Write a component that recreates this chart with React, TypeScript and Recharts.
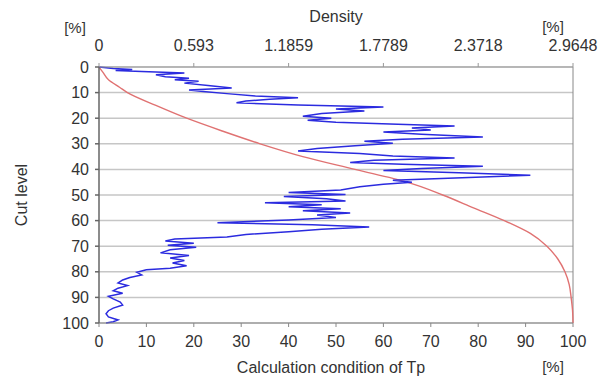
import React from 'react'
import { LineChart, Line, XAxis, YAxis, CartesianGrid, ReferenceLine } from 'recharts'

const FONT = '"Liberation Sans", Arial, sans-serif'
const TEXT = '#333'

const cutTicks = [0, 10, 20, 30, 40, 50, 60, 70, 80, 90, 100]
const pctTicks = [0, 10, 20, 30, 40, 50, 60, 70, 80, 90, 100]
const densityTicks = [0, 0.593, 1.1859, 1.7789, 2.3718, 2.9648]

// density profile (blue)
const densityCut = [
  0, 0.6, 1.0, 1.4, 1.8, 2.3, 3.0, 3.8, 4.4, 5.0,
  5.6, 6.3, 7.2, 8.2, 9.0, 9.6, 10.4, 11.3, 12.0, 12.6,
  13.3, 14.0, 14.8, 15.6, 16.4, 17.2, 18.2, 19.2, 20.0, 20.8,
  21.6, 22.4, 23.0, 23.8, 24.6, 25.4, 26.3, 27.3, 28.2, 29.0,
  29.8, 30.8, 31.8, 32.8, 33.8, 34.8, 35.5, 36.4, 37.3, 38.0,
  38.8, 39.6, 40.4, 41.3, 42.3, 43.2, 44.2, 45.0, 45.8, 46.8,
  48.0, 49.0, 49.8, 50.6, 51.5, 52.3, 53.0, 53.8, 54.6, 55.4,
  56.2, 57.0, 57.8, 58.8, 59.8, 60.8, 61.6, 62.5, 63.4, 64.4,
  65.4, 66.4, 67.2, 68.0, 68.8, 69.6, 70.4, 71.4, 72.6, 73.6,
  74.6, 75.6, 76.6, 77.6, 78.6, 79.2, 80.2, 81.2, 82.2, 83.2,
  84.4, 85.4, 86.4, 87.4, 88.4, 89.6, 90.6, 91.8, 93.0, 94.2,
  95.2, 96.4, 97.6, 98.8, 99.5, 100,
]
const densityValue = [
  0, 0.089, 0.208, 0.104, 0.267, 0.534, 0.356, 0.415, 0.563, 0.474,
  0.623, 0.534, 0.682, 0.830, 0.563, 0.652, 0.800, 0.978, 1.245, 1.067,
  0.919, 0.860, 1.245, 1.779, 1.482, 1.660, 1.393, 1.275, 1.453, 1.305,
  1.482, 1.868, 2.224, 1.957, 2.075, 1.779, 2.016, 2.401, 1.897, 1.660,
  1.838, 1.601, 1.364, 1.245, 1.631, 1.838, 2.224, 1.720, 1.571, 1.897,
  2.401, 2.016, 1.779, 2.253, 2.698, 2.313, 1.838, 1.957, 1.779, 1.631,
  1.512, 1.186, 1.542, 1.156, 1.423, 1.542, 1.038, 1.393, 1.186, 1.512,
  1.275, 1.571, 1.364, 1.482, 1.186, 0.741, 1.334, 1.690, 1.393, 1.186,
  0.919, 0.800, 0.474, 0.415, 0.593, 0.430, 0.608, 0.445, 0.385, 0.563,
  0.445, 0.534, 0.460, 0.548, 0.445, 0.296, 0.237, 0.267, 0.193, 0.148,
  0.119, 0.178, 0.119, 0.089, 0.148, 0.059, 0.089, 0.133, 0.148, 0.089,
  0.059, 0.044, 0.059, 0.119, 0.089, 0.044,
]

// calculation condition of Tp (red), cumulative %
const tpCut = [0, 2, 5, 8, 10, 15, 20, 25, 30, 35, 40, 45, 50, 55, 60, 65, 70, 75, 80, 85, 90, 95, 100]
const tpValue = [0, 0.8, 2, 4.4, 6, 12, 18.5, 26, 34, 43, 54, 65, 72.5, 79, 85.5, 91, 94.5, 96.8, 98.3, 99.2, 99.6, 99.9, 100]

const densityData = densityCut.map((cut, i) => ({ cut, d: densityValue[i] }))
const tpData = tpCut.map((cut, i) => ({ cut, p: tpValue[i] }))

const tick = { fontSize: 16, fill: TEXT, fontFamily: FONT }

function Txt({ x, y, children, rotate, size = 16 }: { x: number; y: number; children: React.ReactNode; rotate?: boolean; size?: number }) {
  return (
    <div
      style={{
        position: 'absolute', left: x, top: y, whiteSpace: 'nowrap', lineHeight: 1,
        fontFamily: FONT, fontSize: size, color: TEXT,
        transform: `translate(-50%, -50%)${rotate ? ' rotate(-90deg)' : ''}`,
      }}
    >
      {children}
    </div>
  )
}

export default function App() {
  return (
    <div style={{ position: 'absolute', left: 0, top: 0, width: 605, height: 379, background: '#fff' }}>
      <LineChart
        width={605}
        height={379}
        layout="vertical"
        margin={{ top: 0, right: 32, bottom: 0, left: 0 }}
      >
        <CartesianGrid vertical={false} stroke="#c6c6c6" strokeWidth={1.5} />
        <XAxis
          xAxisId="pct"
          type="number"
          orientation="bottom"
          domain={[0, 100]}
          ticks={pctTicks}
          interval={0}
          height={56}
          tick={tick}
          tickSize={4}
          tickMargin={9}
          stroke="#888"
        />
        <XAxis
          xAxisId="den"
          type="number"
          orientation="top"
          dataKey="d"
          domain={[0, 2.9648]}
          ticks={densityTicks}
          interval={0}
          height={67}
          tick={tick}
          tickSize={4}
          tickMargin={12}
          stroke="#999"
        />
        <YAxis
          type="number"
          dataKey="cut"
          domain={[0, 100]}
          ticks={cutTicks}
          interval={0}
          width={99}
          tick={tick}
          tickSize={4}
          tickMargin={6}
          stroke="#666"
          strokeWidth={1.5}
        />
        <ReferenceLine xAxisId="pct" x={100} stroke="#888" />
        <Line
          xAxisId="pct"
          data={tpData}
          dataKey="p"
          type="monotone"
          stroke="#e07272"
          strokeWidth={1.4}
          dot={false}
          isAnimationActive={false}
        />
        <Line
          xAxisId="den"
          data={densityData}
          dataKey="d"
          type="linear"
          stroke="#2b2bdf"
          strokeWidth={1.5}
          dot={false}
          isAnimationActive={false}
        />
      </LineChart>
      <Txt x={336} y={17}>Density</Txt>
      <Txt x={75} y={27} size={15}>[%]</Txt>
      <Txt x={553} y={26} size={15}>[%]</Txt>
      <Txt x={331} y={368}>Calculation condition of Tp</Txt>
      <Txt x={553} y={366} size={15}>[%]</Txt>
      <Txt x={22} y={195} rotate>Cut level</Txt>
    </div>
  )
}
